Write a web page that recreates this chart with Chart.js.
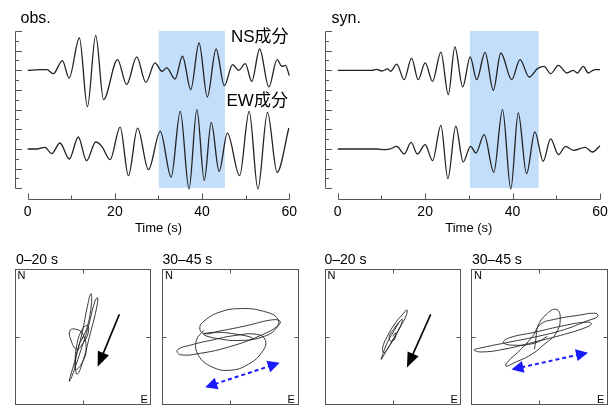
<!DOCTYPE html>
<html lang="ja">
<head>
<meta charset="UTF-8">
<title>obs. / syn. waveforms and particle motion</title>
<script src="https://cdn.jsdelivr.net/npm/chart.js@4"></script>
<style>
  body { margin: 0; width: 616px; height: 408px; position: relative; overflow: hidden; background: #fff;
         font-family: "Liberation Sans", Arial, "Noto Sans CJK JP", sans-serif; color: #000; }
  canvas, .lbl { position: absolute; }
  .lbl { white-space: nowrap; line-height: 1; }
  .big { font-size: 16px; }
  .comp { font-size: 17px; }
  .win { font-size: 14px; }
  .dir { font-size: 11px; }
</style>
</head>
<body>
<canvas id="obsWave" width="300" height="240" style="left:0;top:0"></canvas>
<canvas id="synWave" width="306" height="240" style="left:310px;top:0"></canvas>
<canvas id="obsEarly"></canvas>
<canvas id="obsLate"></canvas>
<canvas id="synEarly"></canvas>
<canvas id="synLate"></canvas>

<div class="lbl big" style="left:20.5px;top:9.5px">obs.</div>
<div class="lbl big" style="left:331.5px;top:9.5px">syn.</div>
<div class="lbl comp" style="left:231px;top:28px">NS成分</div>
<div class="lbl comp" style="left:226.5px;top:91.5px">EW成分</div>
<div class="lbl win" style="left:16px;top:251.5px">0–20 s</div>
<div class="lbl win" style="left:162.5px;top:251.5px">30–45 s</div>
<div class="lbl win" style="left:324.5px;top:251.5px">0–20 s</div>
<div class="lbl win" style="left:472px;top:251.5px">30–45 s</div>
<div class="lbl dir" style="left:17.5px;top:270px">N</div>
<div class="lbl dir" style="left:140.5px;top:393.5px">E</div>
<div class="lbl dir" style="left:165px;top:270px">N</div>
<div class="lbl dir" style="left:287.5px;top:393.5px">E</div>
<div class="lbl dir" style="left:327.5px;top:270px">N</div>
<div class="lbl dir" style="left:450.5px;top:393.5px">E</div>
<div class="lbl dir" style="left:474px;top:270px">N</div>
<div class="lbl dir" style="left:597px;top:393.5px">E</div>

<script>
// waveforms: [time (s), amplitude] read at the turning points
const obsNS = [[0,0],[2.8,0.07],[4.4,0.07],[5.9,-0.34],[7.95,0.99],[9.5,-0.78],[11.86,3.29],[13.7,-3.7],
  [15.6,3.56],[17.4,-2.98],[20.6,1.09],[22.7,-1.45],[25.0,1.36],[27.1,-1.22],[29.2,0.75],[30.8,-0.1],
  [31.9,0.24],[33.8,-0.88],[35.5,1.43],[37.4,-1.96],[39.3,2.78],[41.2,-2.71],[43.2,2.17],[45.1,-1.56],
  [47.0,0.58],[48.4,0],[49.9,0.68],[51.4,-1.12],[53.2,2.17],[55.3,-1.69],[57.2,1.09],[58.3,0.41],
  [59.1,0.51],[60,-0.54]];
const obsEW = [[0,0],[2.06,0],[3.97,0.17],[5.5,-0.48],[7.4,0.61],[9.55,-1.02],[11.6,1.22],[13.5,-1.19],
  [15.6,0.71],[17.0,0.27],[18.9,-1.09],[21.2,2.23],[23.1,-2.72],[25.2,2.13],[27.7,-2.1],[30.4,1.79],
  [32.9,-2.85],[35.0,3.83],[37.0,-4.07],[38.8,4.0],[40.5,-3.19],[42.1,2.71],[43.9,-2.27],[45.8,1.62],
  [48.6,-2.72],[50.8,3.83],[52.8,-4.07],[55.0,3.73],[57.2,-2.38],[59.9,2.13]];
const synNS = [[0,0],[7.8,0],[8.9,0.1],[10.1,-0.07],[11.4,0.14],[12.1,-0.1],[13.5,0.64],[15.2,-0.95],
  [16.9,1.25],[18.4,-0.95],[20.0,0.75],[21.7,-1.12],[23.6,1.86],[25.3,-2.47],[26.8,2.37],[28.6,-1.69],
  [30.3,1.36],[31.8,-0.95],[33.7,1.83],[35.6,-2.03],[37.3,1.76],[39.8,-0.95],[41.7,1.08],[43.8,-0.68],
  [45.7,0.17],[47.2,0.41],[48.7,-0.34],[50.5,0.51],[52.4,-0.27],[53.9,0],[54.8,-0.27],[56.2,0.41],
  [57.3,-0.27],[58.8,0.07],[60,0.07]];
const synEW = [[0,0],[8.9,0],[10.8,-0.07],[12.0,0],[13.5,0.27],[15.2,-0.51],[16.8,0.68],[18.2,-0.51],
  [20.0,0.44],[21.7,-1.19],[23.6,2.41],[25.2,-3.02],[27.0,2.31],[28.7,-1.32],[30.4,0.27],[31.6,-0.41],
  [33.5,1.46],[35.7,-2.37],[37.7,4.0],[39.6,-4.07],[41.3,3.66],[43.2,-2.51],[45.1,1.73],[47.0,-1.25],
  [48.7,1.02],[50.5,-0.58],[52.1,0.27],[53.9,-0.14],[56.6,0.17],[58.3,-0.31],[60,0.34]];

// analysis windows (s)
const obsWindow = [30, 45.3];
const synWindow = [30.2, 46];

const xTickLabels = [0, 20, 40, 60];
const xMinorTicks = [10, 30, 50];
const yTicks = [0, 1, 2, 3, 4, 5, 6, 7, 8, 9, 10, 11, 12, 13, 14, 15, 16];

// particle motion, [EW, NS] normalised to the box
const obsEarlyPM = [[-0.01,-0.03],[0.07,0.16],[0.13,0.51],[0.12,0.64],[0.07,0.46],[-0.01,0.06],[-0.11,-0.33],
  [-0.2,-0.65],[-0.16,-0.58],[-0.04,-0.23],[0.07,0.11],[0.18,0.53],[0.22,0.58],[0.2,0.41],[0.1,0.01],
  [0.01,-0.33],[-0.08,-0.55],[-0.11,-0.43],[-0.09,-0.13],[-0.01,0.11],[0.07,0.17],[0.08,0.06],[0.01,-0.08],
  [-0.09,-0.18],[-0.18,-0.03],[-0.19,0.09],[-0.13,0.12],[-0.01,0.06],[0.05,-0.18],[-0.01,-0.38],
  [-0.1,-0.48],[-0.11,-0.38],[-0.06,-0.13],[0.01,0.01]];
const obsLatePM = [[-0.39,0.10],[-0.50,-0.05],[-0.47,-0.27],[-0.27,-0.44],[0,-0.49],[0.27,-0.40],
  [0.47,-0.22],[0.52,-0.05],[0.39,0.04],[0.05,0.02],[-0.25,-0.04],
  [-0.59,-0.12],[-0.78,-0.19],[-0.74,-0.26],[-0.44,-0.24],[0,-0.14],[0.44,0.02],[0.71,0.17],[0.73,0.24],
  [0.59,0.25],[0.25,0.17],[-0.15,0.09],[-0.39,0.05],
  [-0.45,0.14],[-0.37,0.25],[-0.15,0.37],[0.15,0.42],[0.49,0.38],[0.70,0.27],[0.67,0.12],[0.47,0],
  [0.15,-0.05],[-0.2,-0.02],[-0.39,0.04],
  [-0.2,0.07],[0.1,0.04],[0.3,0],[0.33,-0.02],[0.31,-0.03]];
const synEarlyPM = [[0.0,0.01],[0.04,0.06],[0.03,-0.03],[-0.03,-0.06],[-0.05,0.01],[0.01,0.11],[0.11,0.24],
  [0.14,0.26],[0.11,0.15],[0.01,-0.03],[-0.08,-0.18],[-0.13,-0.23],[-0.15,-0.16],[-0.08,0.01],[0.04,0.21],
  [0.16,0.35],[0.21,0.4],[0.2,0.32],[0.11,0.15],[-0.01,-0.06],[-0.11,-0.23],[-0.17,-0.33],[-0.15,-0.26],
  [-0.08,-0.08],[0.0,0.06],[0.09,0.21]];
const synLatePM = [[-0.07,-0.18],[-0.05,-0.03],[-0.02,0.16],[0.1,0.33],[0.25,0.41],[0.31,0.29],[0.25,0.06],
  [0.07,-0.11],[-0.12,-0.26],[-0.37,-0.38],[-0.49,-0.43],[-0.47,-0.37],[-0.27,-0.18],[-0.1,0.01],
  [0.02,0.19],[0.22,0.26],[0.57,0.32],[0.84,0.35],[0.86,0.3],[0.71,0.24],[0.37,0.11],[-0.02,0.01],
  [-0.52,-0.09],[-0.86,-0.16],[-0.96,-0.19],[-0.86,-0.22],[-0.52,-0.18],[-0.02,-0.06],[0.37,0.04],
  [0.71,0.15],[0.77,0.2],[0.69,0.22],[0.37,0.17],[-0.07,0.07],[-0.44,-0.01],[-0.53,-0.08],[-0.39,-0.12],
  [-0.07,-0.09],[0.12,0.01]];

// arrows [from, to]
const obsEarlyArrow = [[0.54, 0.335], [0.22, -0.44]];
const synEarlyArrow = [[0.56, 0.335], [0.21, -0.45]];
const obsLateArrow = [[-0.37, -0.74], [0.73, -0.38]];
const synLateArrow = [[-0.41, -0.48], [0.72, -0.23]];

const AXIS = '#555';
const LINE = '#222';
const SHADE = '#c2defa';
const BLUE = '#1a1aff';
const NS_BASE = 12, EW_BASE = 4;

const waveAxes = {
  id: 'waveAxes',
  afterDraw(chart) {
    const { ctx, chartArea: a, scales: { x, y } } = chart;
    ctx.save();
    ctx.strokeStyle = AXIS;
    ctx.lineWidth = 1;
    ctx.beginPath();
    const ax = Math.floor(a.left) + 0.5;
    ctx.moveTo(ax, Math.round(y.getPixelForValue(16)) + 0.5);
    ctx.lineTo(ax, Math.round(y.getPixelForValue(0)) + 0.5);
    yTicks.forEach(v => {
      const py = Math.round(y.getPixelForValue(v)) + 0.5;
      ctx.moveTo(ax, py);
      ctx.lineTo(ax + (v % 2 ? 3.5 : 6.5), py);
    });
    const ay = Math.round(a.bottom + 11) + 0.5;
    ctx.moveTo(Math.round(x.getPixelForValue(0)) + 0.5, ay);
    ctx.lineTo(Math.round(x.getPixelForValue(60)) + 0.5, ay);
    xTickLabels.forEach(v => {
      const px = Math.round(x.getPixelForValue(v)) + 0.5;
      ctx.moveTo(px, ay);
      ctx.lineTo(px, ay - 6);
    });
    xMinorTicks.forEach(v => {
      const px = Math.round(x.getPixelForValue(v)) + 0.5;
      ctx.moveTo(px, ay);
      ctx.lineTo(px, ay - 4);
    });
    ctx.stroke();

    ctx.fillStyle = '#000';
    ctx.textAlign = 'center';
    ctx.textBaseline = 'alphabetic';
    ctx.font = '14px "Liberation Sans", Arial, sans-serif';
    xTickLabels.forEach(v => ctx.fillText(String(v), x.getPixelForValue(v), ay + 16.5));
    ctx.font = '13px "Liberation Sans", Arial, sans-serif';
    ctx.fillText('Time (s)', x.getPixelForValue(30), ay + 32.5);
    ctx.restore();
  }
};

function makeWave(id, ns, ew, win, pad) {
  const toPts = (arr, base) => arr.map(([t, v]) => ({ x: t, y: base + v }));
  const wave = data => ({
    data, borderColor: LINE, borderWidth: 1.3, pointRadius: 0,
    cubicInterpolationMode: 'monotone', fill: false, clip: false, order: 0
  });
  new Chart(document.getElementById(id), {
    type: 'line',
    data: {
      datasets: [
        wave(toPts(ns, NS_BASE)),
        wave(toPts(ew, EW_BASE)),
        {
          data: [{ x: win[0], y: 16 }, { x: win[1], y: 16 }],
          borderWidth: 0, pointRadius: 0, fill: 'start', backgroundColor: SHADE, order: 1
        }
      ]
    },
    options: {
      responsive: false, animation: false, events: [],
      layout: { padding: pad },
      plugins: { legend: { display: false }, tooltip: { enabled: false } },
      scales: {
        x: { type: 'linear', min: -2.75, max: 60, display: false },
        y: { min: 0, max: 16, display: false }
      }
    },
    plugins: [waveAxes]
  });
}

makeWave('obsWave', obsNS, obsEW, obsWindow, { left: 15.7, right: 10.7, top: 31, bottom: 51.7 });
makeWave('synWave', synNS, synEW, synWindow, { left: 15.7, right: 16, top: 31, bottom: 51.7 });

const boxFrame = {
  id: 'boxFrame',
  afterDraw(chart) {
    const { ctx, chartArea: a, scales: { x, y } } = chart;
    ctx.save();
    ctx.strokeStyle = AXIS;
    ctx.lineWidth = 1;
    const l = Math.floor(a.left) + 0.5, r = Math.floor(a.right) + 0.5;
    const t = Math.floor(a.top) + 0.5, b = Math.floor(a.bottom) + 0.5;
    ctx.strokeRect(l, t, r - l, b - t);
    const cx = Math.round(x.getPixelForValue(0)) + 0.5, cy = Math.round(y.getPixelForValue(0)) + 0.5;
    ctx.beginPath();
    ctx.moveTo(cx, t); ctx.lineTo(cx, t + 4);
    ctx.moveTo(cx, b); ctx.lineTo(cx, b - 4);
    ctx.moveTo(l, cy); ctx.lineTo(l + 4, cy);
    ctx.moveTo(r, cy); ctx.lineTo(r - 4, cy);
    ctx.stroke();
    ctx.restore();
  }
};

function head(ctx, tip, ang, len, half) {
  ctx.beginPath();
  ctx.moveTo(tip.x, tip.y);
  ctx.lineTo(tip.x - len * Math.cos(ang) + half * Math.sin(ang), tip.y - len * Math.sin(ang) - half * Math.cos(ang));
  ctx.lineTo(tip.x - len * Math.cos(ang) - half * Math.sin(ang), tip.y - len * Math.sin(ang) + half * Math.cos(ang));
  ctx.closePath();
  ctx.fill();
}

const arrowPlugin = {
  id: 'arrow',
  afterDatasetsDraw(chart, args, o) {
    const { ctx, scales: { x, y } } = chart;
    const p = ([vx, vy]) => ({ x: x.getPixelForValue(vx), y: y.getPixelForValue(vy) });
    const a = p(o.from), b = p(o.to);
    const ang = Math.atan2(b.y - a.y, b.x - a.x);
    const c = Math.cos(ang), s = Math.sin(ang);
    ctx.save();
    ctx.strokeStyle = o.color;
    ctx.fillStyle = o.color;
    ctx.lineWidth = o.width;
    if (o.dashed) ctx.setLineDash([4, 3]);
    ctx.beginPath();
    const sa = o.both ? { x: a.x + c * (o.len - 2), y: a.y + s * (o.len - 2) } : a;
    ctx.moveTo(sa.x, sa.y);
    ctx.lineTo(b.x - c * (o.len - 2), b.y - s * (o.len - 2));
    ctx.stroke();
    ctx.setLineDash([]);
    head(ctx, b, ang, o.len, o.half);
    if (o.both) head(ctx, a, ang + Math.PI, o.len, o.half);
    ctx.restore();
  }
};

function makeBox(id, box, pts, arrow) {
  const [L, T, S] = box;
  const cl = Math.floor(L) - 6, ct = Math.floor(T) - 6;
  const cw = Math.ceil(L + S) + 6 - cl;
  const ch = Math.min(408, Math.ceil(T + S) + 4) - ct;
  const cv = document.getElementById(id);
  cv.width = cw; cv.height = ch;
  cv.style.left = cl + 'px'; cv.style.top = ct + 'px';
  new Chart(cv, {
    type: 'line',
    data: {
      datasets: [{
        data: pts.map(([e, n]) => ({ x: e, y: n })),
        borderColor: LINE, borderWidth: 0.9, pointRadius: 0, tension: 0.45, fill: false
      }]
    },
    options: {
      responsive: false, animation: false, events: [],
      layout: { padding: { left: L - cl, top: T - ct, right: cw - (L + S - cl), bottom: ch - (T + S - ct) } },
      plugins: { legend: { display: false }, tooltip: { enabled: false }, arrow },
      scales: {
        x: { type: 'linear', min: -1, max: 1, display: false },
        y: { min: -1, max: 1, display: false }
      }
    },
    plugins: [boxFrame, arrowPlugin]
  });
}

const blackArrow = a => ({ from: a[0], to: a[1], color: '#000', width: 1.6, len: 15, half: 6, dashed: false, both: false });
const blueArrow = a => ({ from: a[0], to: a[1], color: BLUE, width: 2, len: 12, half: 6, dashed: true, both: true });

makeBox('obsEarly', [15, 269.3, 135.5], obsEarlyPM, blackArrow(obsEarlyArrow));
makeBox('obsLate', [162.5, 269.3, 135.5], obsLatePM, blueArrow(obsLateArrow));
makeBox('synEarly', [325, 269.3, 135.5], synEarlyPM, blackArrow(synEarlyArrow));
makeBox('synLate', [471.5, 269.3, 135.5], synLatePM, blueArrow(synLateArrow));
</script>
</body>
</html>
